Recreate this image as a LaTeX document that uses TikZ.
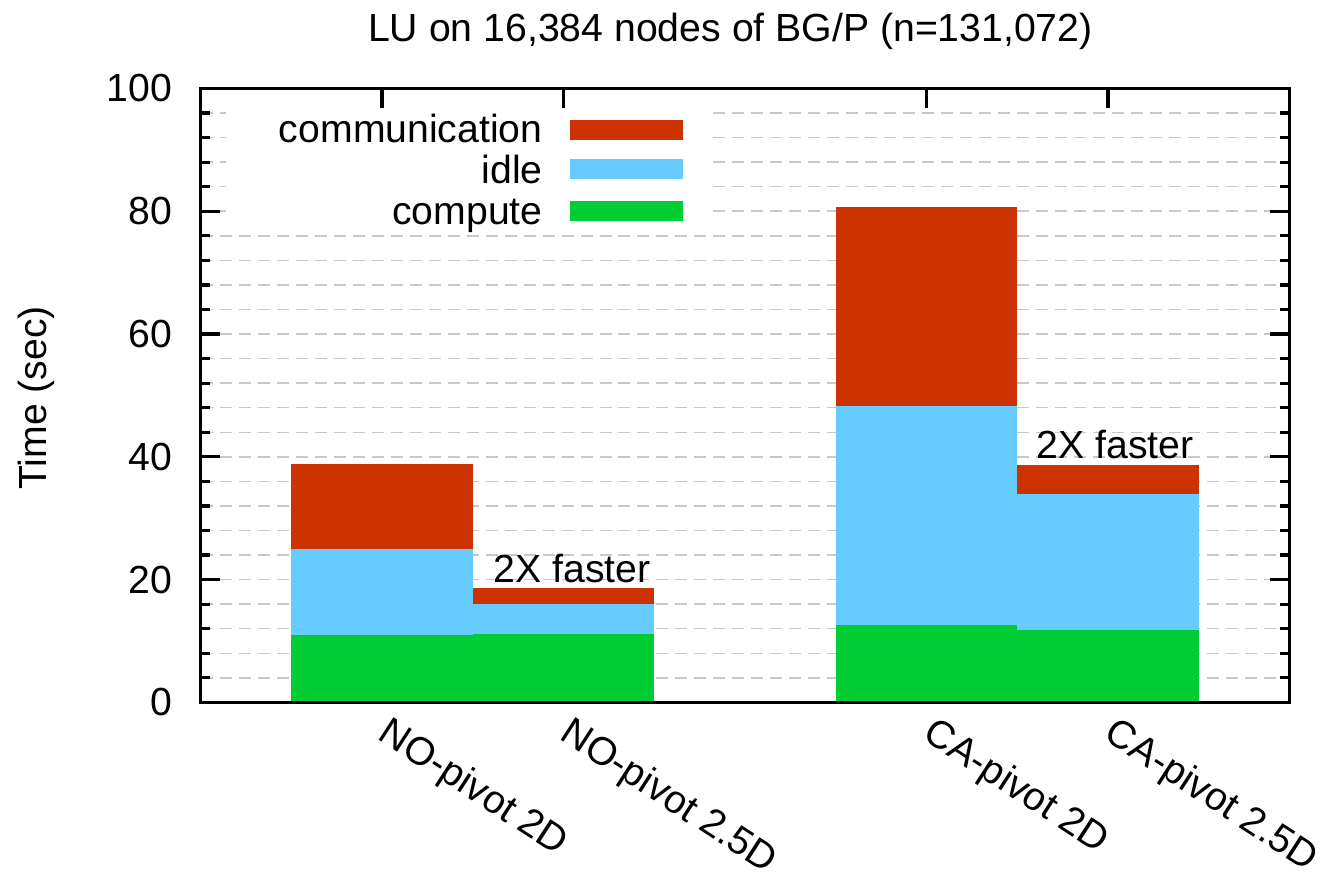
\documentclass[tikz,border=0pt]{standalone}
\usepackage{fontspec}
\setmainfont{Liberation Sans}
\usetikzlibrary{positioning}

\definecolor{commred}{HTML}{CC3300}
\definecolor{idleblue}{HTML}{66CCFF}
\definecolor{compgreen}{HTML}{00CC33}
\definecolor{gridgray}{HTML}{C8C8C8}

\begin{document}
\begin{tikzpicture}[
  x=90.75pt, y=3.07pt,
  every node/.style={inner sep=0pt,font=\fontsize{19.6}{23.5}\selectfont},
  gridline/.style={gridgray,line width=0.75pt,dash pattern=on 6pt off 3.5pt},
  frame/.style={line width=1.6pt},
  swatch/.style={rectangle,minimum width=56.5pt,minimum height=10pt},
  barlabel/.style={anchor=west,rotate=-33}
]
\useasboundingbox (-2.105,-27.93) rectangle (5.196,114.41);
% grid
\foreach \g in {4,8,...,96}
  \draw[gridline] (-1,\g) -- (5,\g);
% legend background
\fill[white] (-0.86,78.3) rectangle (1.79,99.6);
% bars: compute, idle, communication
\fill[compgreen] (-0.5,0) rectangle (0.5,11.0);
\fill[idleblue] (-0.5,11.0) rectangle (0.5,25.0);
\fill[commred] (-0.5,25.0) rectangle (0.5,38.8);
\fill[compgreen] (0.5,0) rectangle (1.5,11.15);
\fill[idleblue] (0.5,11.15) rectangle (1.5,16.0);
\fill[commred] (0.5,16.0) rectangle (1.5,18.65);
\fill[compgreen] (2.5,0) rectangle (3.5,12.6);
\fill[idleblue] (2.5,12.6) rectangle (3.5,48.3);
\fill[commred] (2.5,48.3) rectangle (3.5,80.7);
\fill[compgreen] (3.5,0) rectangle (4.5,11.8);
\fill[idleblue] (3.5,11.8) rectangle (4.5,34.0);
\fill[commred] (3.5,34.0) rectangle (4.5,38.7);
% axes and ticks
\foreach \t in {4,8,...,96} {
  \draw[frame] (-1,\t) -- ++(4.5pt,0);
  \draw[frame] (5,\t) -- ++(-4.5pt,0);
}
\foreach \t in {0,20,...,100} {
  \draw[frame] (-1,\t) -- ++(9.5pt,0);
  \draw[frame] (5,\t) -- ++(-9.5pt,0);
  \node[anchor=east] (tick\t) at ([xshift=-14pt]-1,\t) {\t};
}
\foreach \t in {0,1,3,4}
  \draw[frame] (\t,100) -- ++(0,-10pt);
\draw[frame,line cap=rect] (-1,0) rectangle (5,100);
% legend
\node[swatch,fill=commred] (swcomm) at (1.347,93.25) {};
\node[swatch,fill=idleblue] (swidle) at (1.347,86.85) {};
\node[swatch,fill=compgreen] (swcomp) at (1.347,80.1) {};
\node[anchor=base east] (lcomm) at (0.887,91.17) {communication};
\node[anchor=base east] (lidle) at (0.887,84.6) {idle};
\node[anchor=base east] (lcomp) at (0.887,77.9) {compute};
% labels
\node[anchor=base] (title) at (1.92,107.6) {LU on 16,384 nodes of BG/P (n=131,072)};
\node[rotate=90] (ylabel) at (-1.906,49.6) {Time (sec)};
\node[anchor=base] (fast1) at (1.047,19.6) {2X faster};
\node[anchor=base] (fast2) at (4.04,39.8) {2X faster};
\node[barlabel] (nop2) at (0,-4.5) {NO-pivot 2D};
\node[barlabel] (nop25) at (1,-4.5) {NO-pivot 2.5D};
\node[barlabel] (cap2) at (3,-4.5) {CA-pivot 2D};
\node[barlabel] (cap25) at (4,-4.5) {CA-pivot 2.5D};
\end{tikzpicture}
\end{document}
